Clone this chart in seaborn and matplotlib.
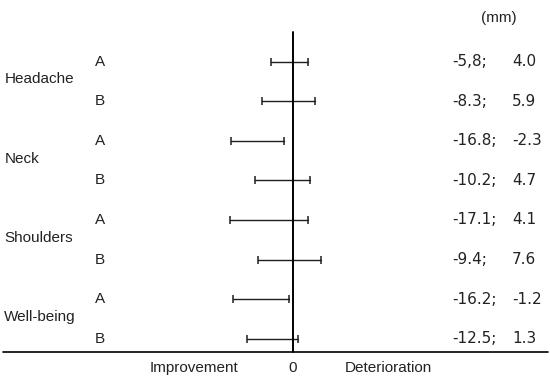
import seaborn as sns
import pandas as pd
import matplotlib.pyplot as plt

sns.set_theme(style="white")
plt.rcParams["font.family"] = ["Liberation Sans", "DejaVu Sans"]

# data
groups = ["Headache", "Neck", "Shoulders", "Well-being"]
arms = ["A", "B"]
lower = [-5.8, -8.3, -16.8, -10.2, -17.1, -9.4, -16.2, -12.5]
upper = [4.0, 5.9, -2.3, 4.7, 4.1, 7.6, -1.2, 1.3]
lower_text = ["-5,8;", "-8.3;", "-16.8;", "-10.2;", "-17.1;", "-9.4;", "-16.2;", "-12.5;"]
upper_text = ["4.0", "5.9", "-2.3", "4.7", "4.1", "7.6", "-1.2", "1.3"]

rows = []
for i in range(len(lower)):
    g = groups[i // 2]
    a = arms[i % 2]
    rows.append({"row": i, "group": g, "arm": a, "end": "lo", "value": lower[i]})
    rows.append({"row": i, "group": g, "arm": a, "end": "hi", "value": upper[i]})
df = pd.DataFrame(rows)

fig = plt.figure(figsize=(5.5, 3.78), dpi=100)
ax = fig.add_axes([0, 0, 1, 1])
col = "#1e1e1e"

sns.lineplot(data=df, x="value", y="row", units="row", estimator=None, sort=False,
             color=col, lw=1.0, ax=ax, legend=False)
sns.scatterplot(data=df, x="value", y="row", marker="|", s=30, linewidth=1.1,
                color=col, ax=ax, legend=False)

ax.set_xlim(-79.2, 69.5)
ax.set_ylim(7.99, -1.553)
ax.axvline(0, ymin=(7.99 - 7.33) / (7.99 + 1.553), ymax=(7.99 + 0.745) / (7.99 + 1.553),
           color="black", lw=1.4)
ax.axhline(7.33, xmin=0.005, xmax=0.997, color="black", lw=1.2)

fs = 11
tc = "#222222"
num_font = ["DejaVu Sans"]
tr = ax.get_yaxis_transform()
for i in range(len(lower)):
    ax.text(0.172, i, arms[i % 2], fontsize=fs, color=tc, va="center", ha="left", transform=tr)
    ax.text(0.823, i, lower_text[i], fontsize=fs, color=tc, va="center", ha="left",
            transform=tr, family=num_font)
    ax.text(0.931, i, upper_text[i], fontsize=fs, color=tc, va="center", ha="left",
            transform=tr, family=num_font)
for j, g in enumerate(groups):
    ax.text(0.008, 2 * j + 0.45, g, fontsize=fs, color=tc, va="center", ha="left", transform=tr)

ax.text(0.94, -1.1, "(mm)", fontsize=fs, color=tc, va="center", ha="right", transform=tr)
ax.text(0.353, 7.75, "Improvement", fontsize=fs, color=tc, va="center", ha="center", transform=tr)
ax.text(0, 7.75, "0", fontsize=fs, color=tc, va="center", ha="center")
ax.text(0.707, 7.75, "Deterioration", fontsize=fs, color=tc, va="center", ha="center", transform=tr)

ax.set_axis_off()
plt.savefig("out.png", dpi=100)
